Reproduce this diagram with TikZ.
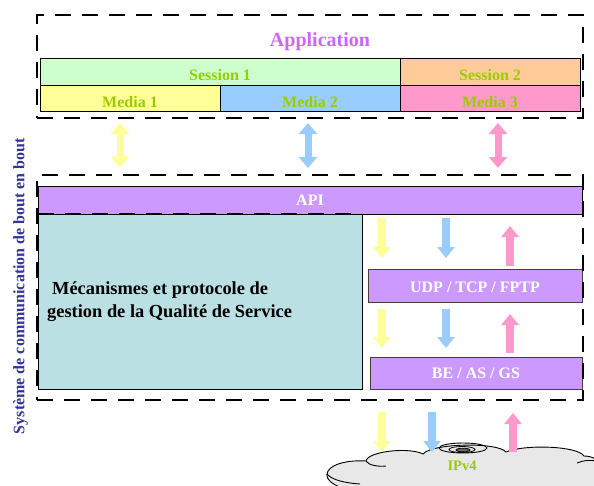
\documentclass[tikz,border=0pt]{standalone}
\usepackage{fontspec}
\setmainfont{Liberation Serif}
\usetikzlibrary{arrows.meta}
\definecolor{sesA}{HTML}{CCFFCC}
\definecolor{sesB}{HTML}{FFCC99}
\definecolor{medA}{HTML}{FFFF99}
\definecolor{medB}{HTML}{99CCFF}
\definecolor{medC}{HTML}{FF99CC}
\definecolor{lbl}{HTML}{99CC00}
\definecolor{apptxt}{HTML}{CC66FF}
\definecolor{apibar}{HTML}{CC99FF}
\definecolor{qos}{HTML}{BAE0E3}
\definecolor{vtxt}{HTML}{333399}
\definecolor{cloudgray}{HTML}{E8E8E8}
\begin{document}
\begin{tikzpicture}[x=1pt,y=-1pt,
  bar/.style={draw=black, line width=0.8pt, inner sep=0pt, outer sep=0pt, anchor=north west,
    font=\bfseries\fontsize{16}{16}\selectfont, text depth=0pt},
  bl/.style={text height=#1},
  frame/.style={draw=black, line width=2.6pt, dash pattern=on 16pt off 11pt},
  framebox/.style={frame, inner sep=0pt, outer sep=0pt, anchor=north west},
  fat/.style={line width=8pt, -{Triangle[width=17pt,length=11pt]}},
  dbl/.style={line width=7pt, {Triangle[width=18pt,length=11pt]}-{Triangle[width=18pt,length=11pt]}},
]
\useasboundingbox (0,0) rectangle (594,485);
\clip (0,0) rectangle (594,485);

% application block
\node[bar, fill=sesA, text=lbl, bl=17pt, minimum width=360pt, minimum height=27pt] (s1) at (40,58) {Session 1};
\node[bar, fill=sesB, text=lbl, bl=17pt, minimum width=180pt, minimum height=27pt] (s2) at (400,58) {Session 2};
\node[bar, fill=medA, text=lbl, bl=18pt, minimum width=180pt, minimum height=26pt] (m1) at (40,85) {Media 1};
\node[bar, fill=medB, text=lbl, bl=18pt, minimum width=180pt, minimum height=26pt] (m2) at (220,85) {Media 2};
\node[bar, fill=medC, text=lbl, bl=18pt, minimum width=180pt, minimum height=26pt] (m3) at (400,85) {Media 3};
\node[anchor=base, inner sep=0pt, text=apptxt, font=\bfseries\fontsize{20}{20}\selectfont] (app) at (320,46) {Application};

% system block
\node[bar, fill=apibar, text=white, bl=10pt, minimum width=544pt, minimum height=28pt] (api) at (38,186) {API};
\node[bar, fill=qos, minimum width=324pt, minimum height=175pt] (qosbox) at (38,214) {};
\node[anchor=west, align=left, inner sep=0pt, font=\bfseries\fontsize{18.4}{23}\selectfont] (qostext) at (47,302)
  {\hspace*{5pt}Mécanismes et protocole de\\gestion de la Qualité de Service};
\node[bar, draw=black!75, fill=apibar, text=white, bl=13pt, minimum width=214pt, minimum height=33pt] (udp) at (368,269) {UDP / TCP / FPTP};
\node[bar, draw=black!75, fill=apibar, text=white, bl=10pt, minimum width=212pt, minimum height=32pt] (be) at (370,357) {BE / AS / GS};

\draw[frame, line width=2pt] (qosbox.north west) -- (qosbox.north east);

% side label
\node[rotate=90, inner sep=0pt, text=vtxt, font=\bfseries\fontsize{16}{16}\selectfont] (side) at (20.5,286)
  {Système de communication de bout en bout};

% cloud
\draw[fill=cloudgray, line width=0.9pt]
  (362,492) .. controls (340,490) and (322,481) .. (328,471)
  .. controls (333,463) and (350,460) .. (366,461)
  .. controls (368,451) and (410,447) .. (423,454)
  .. controls (432,443) and (498,442) .. (506,452)
  .. controls (525,444) and (578,446) .. (584,456)
  .. controls (592,456) and (600,460) .. (600,466)
  -- (600,492) -- cycle;
\draw[line width=0.9pt] (366,461) .. controls (368,465) and (378,467) .. (386,466);
\draw[line width=0.9pt] (577,463) .. controls (584,460) and (590,460) .. (597,461);
\draw[line width=0.9pt] (327,474) .. controls (332,480) and (345,483) .. (360,484);
\draw[line width=0.9pt] (463,448) ellipse [x radius=24, y radius=5];
\draw[line width=0.8pt] (462,449.5) ellipse [x radius=13, y radius=3];
\draw[line width=0.8pt, fill=black!60] (463,450) ellipse [x radius=7, y radius=1.8];
\node[anchor=base, inner sep=0pt, text=lbl, font=\bfseries\fontsize{14.5}{14.5}\selectfont] (ipv4) at (462,470) {IPv4};

% arrow end points
\coordinate (d1a) at (120,123); \coordinate (d1b) at (120,168);
\coordinate (d2a) at (308,123); \coordinate (d2b) at (308,168);
\coordinate (d3a) at (498,123); \coordinate (d3b) at (498,168);
\coordinate (ya1) at (382,218); \coordinate (yb1) at (382,258);
\coordinate (ba1) at (446,218); \coordinate (bb1) at (446,258);
\coordinate (pa1) at (510,266); \coordinate (pb1) at (510,226);
\coordinate (ya2) at (382,309); \coordinate (yb2) at (382,348);
\coordinate (ba2) at (446,309); \coordinate (bb2) at (446,348);
\coordinate (pa2) at (510,353); \coordinate (pb2) at (510,314);
\coordinate (ya3) at (382,412); \coordinate (yb3) at (382,452);
\coordinate (ba3) at (432,412); \coordinate (bb3) at (432,452);
\coordinate (pa3) at (513,452); \coordinate (pb3) at (513,413);

\draw[dbl, medA] (d1a) -- (d1b);
\draw[dbl, medB] (d2a) -- (d2b);
\draw[dbl, medC] (d3a) -- (d3b);
\draw[fat, medA] (ya1) -- (yb1);
\draw[fat, medB] (ba1) -- (bb1);
\draw[fat, medC] (pa1) -- (pb1);
\draw[fat, medA] (ya2) -- (yb2);
\draw[fat, medB] (ba2) -- (bb2);
\draw[fat, medC] (pa2) -- (pb2);
\draw[fat, medA] (ya3) -- (yb3);
\draw[fat, medB] (ba3) -- (bb3);
\draw[fat, medC] (pa3) -- (pb3);

% dashed frames
\node[framebox, minimum width=546pt, minimum height=103pt] (appframe) at (37,15) {};
\node[framebox, minimum width=546pt, minimum height=225pt] (sysframe) at (37,175) {};
\end{tikzpicture}
\end{document}
